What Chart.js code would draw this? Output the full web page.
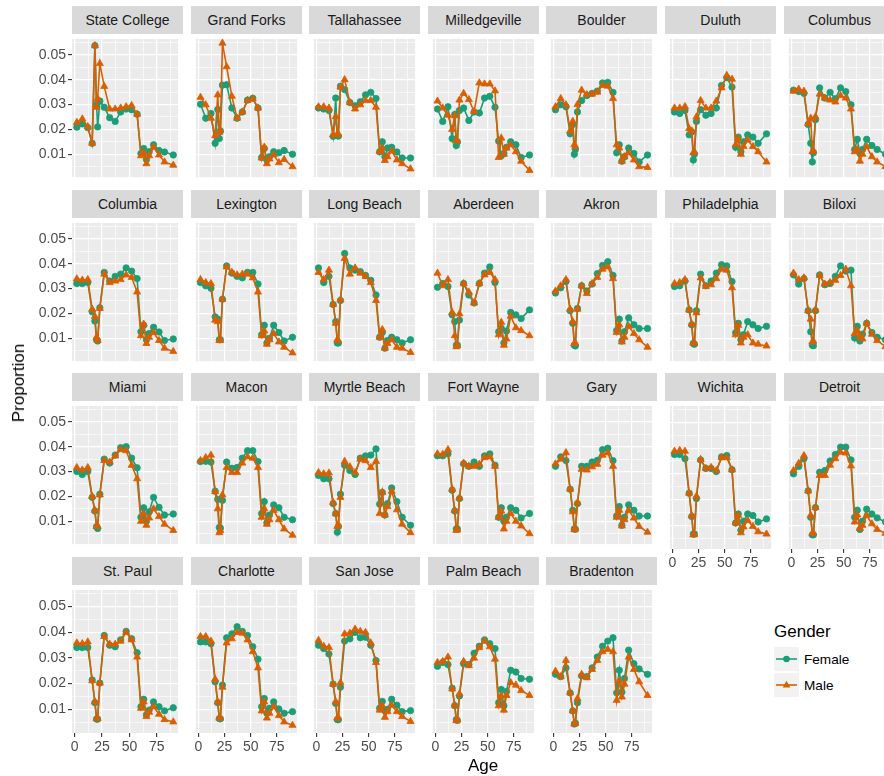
<!DOCTYPE html>
<html>
<head>
<meta charset="utf-8">
<script src="https://cdn.jsdelivr.net/npm/chart.js@4.4.0/dist/chart.umd.min.js"></script>
<style>
  body { margin: 0; background: #fff; }
  #fig { position: relative; width: 884px; height: 776px; overflow: hidden;
         font-family: "Liberation Sans", Arial, sans-serif; }
  .strip { position: absolute; background: #D9D9D9; color: #1A1A1A; font-size: 14px;
           text-align: center; white-space: nowrap; overflow: hidden; }
  canvas { position: absolute; }
  .title { position: absolute; color: #000; font-size: 17px; white-space: nowrap; }
  .key { position: absolute; width: 25px; height: 24px; background: #F2F2F2; }
  .keylab { position: absolute; font-size: 13.6px; color: #000; }
</style>
</head>
<body>
<div id="fig"></div>
<script>
const cities = ['State College', 'Grand Forks', 'Tallahassee', 'Milledgeville', 'Boulder', 'Duluth', 'Columbus',
  'Columbia', 'Lexington', 'Long Beach', 'Aberdeen', 'Akron', 'Philadelphia', 'Biloxi',
  'Miami', 'Macon', 'Myrtle Beach', 'Fort Wayne', 'Gary', 'Wichita', 'Detroit',
  'St. Paul', 'Charlotte', 'San Jose', 'Palm Beach', 'Bradenton'];

// midpoints of the census age groups
const ageMidpoints = [2, 7, 12, 16, 18.5, 20, 21, 23, 27, 32, 37, 42, 47, 52, 57, 60.5, 63, 65.5, 68, 72, 77, 82, 90];

const femaleProps = [
  [0.0209,0.0222,0.0207,0.0144,0.0537,0.0300,0.0210,0.0314,0.0289,0.0247,0.0232,0.0270,0.0282,0.0279,0.0261,0.0103,0.0123,0.0079,0.0110,0.0138,0.0115,0.0109,0.0097],
  [0.0301,0.0245,0.0264,0.0144,0.0280,0.0163,0.0194,0.0378,0.0380,0.0286,0.0245,0.0270,0.0318,0.0325,0.0286,0.0087,0.0123,0.0077,0.0090,0.0110,0.0106,0.0115,0.0100],
  [0.0286,0.0282,0.0276,0.0172,0.0326,0.0175,0.0173,0.0374,0.0360,0.0308,0.0295,0.0311,0.0339,0.0349,0.0324,0.0110,0.0150,0.0090,0.0125,0.0128,0.0109,0.0085,0.0085],
  [0.0282,0.0232,0.0291,0.0163,0.0260,0.0135,0.0150,0.0276,0.0286,0.0236,0.0270,0.0266,0.0326,0.0333,0.0289,0.0153,0.0094,0.0103,0.0128,0.0150,0.0138,0.0087,0.0097],
  [0.0279,0.0299,0.0291,0.0182,0.0220,0.0100,0.0119,0.0270,0.0316,0.0336,0.0345,0.0354,0.0387,0.0389,0.0349,0.0106,0.0138,0.0072,0.0090,0.0125,0.0103,0.0069,0.0097],
  [0.0270,0.0264,0.0276,0.0178,0.0190,0.0077,0.0100,0.0232,0.0279,0.0257,0.0264,0.0286,0.0377,0.0408,0.0370,0.0128,0.0169,0.0110,0.0150,0.0178,0.0169,0.0144,0.0182],
  [0.0358,0.0352,0.0345,0.0220,0.0144,0.0069,0.0106,0.0239,0.0367,0.0326,0.0349,0.0323,0.0367,0.0352,0.0299,0.0119,0.0160,0.0103,0.0119,0.0160,0.0135,0.0119,0.0100],
  [0.0320,0.0320,0.0324,0.0207,0.0169,0.0094,0.0089,0.0223,0.0365,0.0330,0.0349,0.0358,0.0383,0.0370,0.0340,0.0126,0.0152,0.0094,0.0119,0.0144,0.0125,0.0091,0.0097],
  [0.0324,0.0311,0.0301,0.0186,0.0177,0.0094,0.0094,0.0257,0.0391,0.0362,0.0349,0.0343,0.0365,0.0365,0.0318,0.0114,0.0152,0.0081,0.0100,0.0152,0.0123,0.0089,0.0104],
  [0.0383,0.0324,0.0349,0.0236,0.0167,0.0081,0.0081,0.0252,0.0441,0.0383,0.0374,0.0368,0.0353,0.0333,0.0274,0.0104,0.0123,0.0060,0.0091,0.0104,0.0094,0.0081,0.0094],
  [0.0305,0.0320,0.0308,0.0194,0.0167,0.0072,0.0072,0.0173,0.0320,0.0274,0.0242,0.0320,0.0362,0.0387,0.0324,0.0126,0.0140,0.0081,0.0129,0.0204,0.0194,0.0179,0.0214],
  [0.0282,0.0303,0.0328,0.0211,0.0160,0.0072,0.0069,0.0220,0.0311,0.0290,0.0318,0.0360,0.0393,0.0408,0.0353,0.0131,0.0177,0.0089,0.0126,0.0182,0.0154,0.0139,0.0139],
  [0.0308,0.0311,0.0330,0.0214,0.0154,0.0079,0.0076,0.0211,0.0358,0.0311,0.0330,0.0362,0.0396,0.0391,0.0328,0.0122,0.0160,0.0094,0.0114,0.0167,0.0154,0.0139,0.0148],
  [0.0355,0.0318,0.0340,0.0211,0.0126,0.0072,0.0070,0.0211,0.0355,0.0315,0.0320,0.0349,0.0391,0.0370,0.0374,0.0101,0.0148,0.0089,0.0116,0.0160,0.0123,0.0104,0.0094],
  [0.0300,0.0288,0.0300,0.0196,0.0141,0.0078,0.0071,0.0209,0.0350,0.0334,0.0366,0.0396,0.0400,0.0354,0.0315,0.0116,0.0154,0.0100,0.0138,0.0196,0.0156,0.0125,0.0129],
  [0.0340,0.0341,0.0338,0.0221,0.0188,0.0075,0.0072,0.0184,0.0338,0.0313,0.0316,0.0354,0.0384,0.0384,0.0340,0.0131,0.0179,0.0094,0.0125,0.0166,0.0154,0.0116,0.0106],
  [0.0284,0.0271,0.0271,0.0171,0.0131,0.0056,0.0079,0.0209,0.0325,0.0304,0.0288,0.0354,0.0363,0.0366,0.0391,0.0169,0.0216,0.0125,0.0171,0.0234,0.0179,0.0116,0.0084],
  [0.0363,0.0363,0.0371,0.0225,0.0141,0.0069,0.0069,0.0191,0.0331,0.0321,0.0338,0.0321,0.0363,0.0371,0.0325,0.0116,0.0154,0.0100,0.0116,0.0154,0.0144,0.0113,0.0131],
  [0.0321,0.0359,0.0344,0.0229,0.0144,0.0069,0.0068,0.0171,0.0321,0.0321,0.0338,0.0345,0.0388,0.0394,0.0344,0.0121,0.0159,0.0084,0.0116,0.0166,0.0144,0.0121,0.0121],
  [0.0375,0.0375,0.0359,0.0225,0.0134,0.0066,0.0066,0.0204,0.0354,0.0321,0.0321,0.0309,0.0366,0.0371,0.0316,0.0109,0.0144,0.0081,0.0116,0.0144,0.0138,0.0113,0.0125],
  [0.0300,0.0329,0.0359,0.0234,0.0131,0.0063,0.0063,0.0169,0.0306,0.0313,0.0350,0.0375,0.0404,0.0404,0.0354,0.0131,0.0159,0.0084,0.0116,0.0163,0.0144,0.0129,0.0113],
  [0.0340,0.0340,0.0340,0.0214,0.0126,0.0062,0.0062,0.0202,0.0387,0.0349,0.0343,0.0370,0.0403,0.0374,0.0320,0.0110,0.0139,0.0079,0.0097,0.0129,0.0110,0.0094,0.0106],
  [0.0362,0.0362,0.0355,0.0207,0.0126,0.0064,0.0063,0.0194,0.0378,0.0393,0.0421,0.0403,0.0387,0.0343,0.0295,0.0110,0.0142,0.0085,0.0104,0.0129,0.0101,0.0085,0.0091],
  [0.0349,0.0336,0.0315,0.0198,0.0123,0.0060,0.0060,0.0186,0.0365,0.0374,0.0399,0.0378,0.0380,0.0349,0.0290,0.0104,0.0131,0.0094,0.0100,0.0139,0.0116,0.0091,0.0095],
  [0.0267,0.0282,0.0274,0.0182,0.0114,0.0060,0.0057,0.0152,0.0277,0.0274,0.0318,0.0345,0.0370,0.0355,0.0336,0.0126,0.0177,0.0114,0.0169,0.0252,0.0245,0.0220,0.0217],
  [0.0236,0.0227,0.0261,0.0164,0.0094,0.0043,0.0046,0.0126,0.0230,0.0227,0.0261,0.0303,0.0345,0.0365,0.0378,0.0164,0.0252,0.0167,0.0220,0.0330,0.0277,0.0257,0.0236]
];

const maleProps = [
  [0.0228,0.0242,0.0211,0.0144,0.0537,0.0289,0.0324,0.0465,0.0373,0.0282,0.0282,0.0286,0.0291,0.0296,0.0261,0.0094,0.0106,0.0062,0.0094,0.0128,0.0097,0.0069,0.0056],
  [0.0329,0.0299,0.0245,0.0175,0.0339,0.0188,0.0195,0.0547,0.0452,0.0333,0.0245,0.0270,0.0316,0.0323,0.0286,0.0085,0.0129,0.0062,0.0081,0.0097,0.0066,0.0079,0.0050],
  [0.0291,0.0291,0.0286,0.0178,0.0251,0.0178,0.0180,0.0370,0.0400,0.0308,0.0282,0.0299,0.0316,0.0316,0.0289,0.0110,0.0125,0.0075,0.0090,0.0113,0.0077,0.0062,0.0041],
  [0.0314,0.0286,0.0257,0.0200,0.0255,0.0155,0.0153,0.0318,0.0345,0.0320,0.0272,0.0387,0.0383,0.0383,0.0355,0.0087,0.0165,0.0100,0.0125,0.0138,0.0110,0.0072,0.0035],
  [0.0291,0.0324,0.0299,0.0194,0.0232,0.0138,0.0130,0.0300,0.0358,0.0340,0.0342,0.0350,0.0377,0.0374,0.0324,0.0138,0.0125,0.0072,0.0090,0.0106,0.0077,0.0050,0.0047],
  [0.0286,0.0286,0.0292,0.0203,0.0194,0.0106,0.0110,0.0250,0.0316,0.0286,0.0286,0.0314,0.0367,0.0417,0.0402,0.0138,0.0163,0.0100,0.0131,0.0157,0.0131,0.0110,0.0069],
  [0.0354,0.0362,0.0354,0.0223,0.0245,0.0110,0.0115,0.0251,0.0342,0.0326,0.0318,0.0310,0.0336,0.0326,0.0282,0.0110,0.0119,0.0072,0.0100,0.0131,0.0090,0.0069,0.0050],
  [0.0339,0.0334,0.0336,0.0217,0.0188,0.0104,0.0091,0.0220,0.0358,0.0324,0.0330,0.0336,0.0355,0.0345,0.0286,0.0110,0.0157,0.0079,0.0104,0.0123,0.0091,0.0060,0.0047],
  [0.0336,0.0324,0.0320,0.0173,0.0167,0.0091,0.0091,0.0257,0.0387,0.0365,0.0355,0.0358,0.0358,0.0343,0.0286,0.0110,0.0129,0.0076,0.0094,0.0119,0.0085,0.0064,0.0041],
  [0.0365,0.0336,0.0374,0.0236,0.0160,0.0094,0.0090,0.0255,0.0421,0.0358,0.0383,0.0362,0.0349,0.0324,0.0252,0.0104,0.0135,0.0060,0.0079,0.0094,0.0064,0.0060,0.0043],
  [0.0362,0.0311,0.0336,0.0204,0.0110,0.0066,0.0070,0.0198,0.0320,0.0286,0.0242,0.0320,0.0355,0.0365,0.0336,0.0114,0.0164,0.0072,0.0097,0.0189,0.0142,0.0131,0.0110],
  [0.0290,0.0311,0.0336,0.0217,0.0167,0.0079,0.0080,0.0217,0.0311,0.0280,0.0320,0.0345,0.0378,0.0387,0.0340,0.0123,0.0154,0.0085,0.0104,0.0148,0.0119,0.0094,0.0064],
  [0.0320,0.0324,0.0336,0.0214,0.0157,0.0081,0.0080,0.0202,0.0343,0.0308,0.0315,0.0340,0.0378,0.0374,0.0303,0.0114,0.0152,0.0081,0.0104,0.0114,0.0081,0.0076,0.0069],
  [0.0362,0.0336,0.0343,0.0211,0.0177,0.0085,0.0088,0.0214,0.0353,0.0318,0.0324,0.0333,0.0353,0.0378,0.0311,0.0119,0.0131,0.0104,0.0097,0.0160,0.0116,0.0091,0.0066],
  [0.0316,0.0306,0.0316,0.0200,0.0144,0.0079,0.0080,0.0206,0.0344,0.0338,0.0363,0.0388,0.0384,0.0325,0.0271,0.0100,0.0129,0.0084,0.0113,0.0150,0.0119,0.0088,0.0063],
  [0.0344,0.0356,0.0366,0.0219,0.0150,0.0054,0.0063,0.0206,0.0316,0.0296,0.0296,0.0334,0.0359,0.0354,0.0316,0.0116,0.0150,0.0088,0.0106,0.0144,0.0106,0.0069,0.0044],
  [0.0296,0.0291,0.0294,0.0175,0.0130,0.0079,0.0085,0.0196,0.0341,0.0319,0.0296,0.0350,0.0344,0.0316,0.0341,0.0131,0.0216,0.0125,0.0159,0.0221,0.0146,0.0088,0.0054],
  [0.0371,0.0369,0.0388,0.0229,0.0144,0.0063,0.0066,0.0194,0.0334,0.0321,0.0321,0.0329,0.0356,0.0359,0.0321,0.0116,0.0141,0.0069,0.0100,0.0131,0.0100,0.0081,0.0050],
  [0.0331,0.0350,0.0376,0.0229,0.0138,0.0066,0.0070,0.0175,0.0309,0.0306,0.0319,0.0329,0.0366,0.0375,0.0321,0.0116,0.0144,0.0081,0.0106,0.0144,0.0113,0.0079,0.0056],
  [0.0388,0.0391,0.0388,0.0225,0.0138,0.0063,0.0065,0.0213,0.0356,0.0321,0.0325,0.0313,0.0363,0.0363,0.0316,0.0109,0.0138,0.0071,0.0094,0.0119,0.0096,0.0075,0.0066],
  [0.0313,0.0341,0.0371,0.0234,0.0138,0.0069,0.0070,0.0169,0.0294,0.0294,0.0334,0.0359,0.0384,0.0381,0.0331,0.0113,0.0140,0.0088,0.0100,0.0138,0.0106,0.0084,0.0069],
  [0.0358,0.0355,0.0362,0.0211,0.0129,0.0064,0.0064,0.0202,0.0383,0.0353,0.0353,0.0365,0.0399,0.0370,0.0303,0.0104,0.0129,0.0072,0.0089,0.0110,0.0081,0.0060,0.0051],
  [0.0383,0.0383,0.0365,0.0217,0.0129,0.0066,0.0066,0.0186,0.0358,0.0374,0.0399,0.0396,0.0370,0.0324,0.0261,0.0094,0.0129,0.0066,0.0085,0.0110,0.0076,0.0051,0.0038],
  [0.0368,0.0345,0.0340,0.0198,0.0129,0.0066,0.0066,0.0204,0.0393,0.0396,0.0412,0.0403,0.0399,0.0358,0.0282,0.0097,0.0114,0.0069,0.0091,0.0116,0.0091,0.0072,0.0053],
  [0.0282,0.0286,0.0303,0.0179,0.0116,0.0056,0.0060,0.0160,0.0286,0.0270,0.0299,0.0340,0.0365,0.0343,0.0295,0.0114,0.0152,0.0097,0.0154,0.0204,0.0194,0.0173,0.0154],
  [0.0248,0.0227,0.0290,0.0164,0.0094,0.0043,0.0046,0.0142,0.0236,0.0223,0.0255,0.0290,0.0324,0.0333,0.0324,0.0135,0.0211,0.0148,0.0198,0.0303,0.0255,0.0207,0.0154]
];

const xBreaks = [0, 12.5, 25, 37.5, 50, 62.5, 75, 87.5];
const xLabels = [0, 25, 50, 75];
const yBreaks = [0.005, 0.01, 0.015, 0.02, 0.025, 0.03, 0.035, 0.04, 0.045, 0.05, 0.055];
const yLabels = [0.01, 0.02, 0.03, 0.04, 0.05];

const FEMALE = '#1B9E77';
const MALE = '#D95F02';
const FONT = '"Liberation Sans", Arial, sans-serif';

// facet grid geometry
const nCol = 7;
const colLeft = [72, 191, 309, 428, 546, 665, 784];
const rowTop = [6, 190, 373, 557];
const stripH = 28, plotW = 111, plotH = 148;
const yAxisW = 50, xAxisH = 30;

const fig = document.getElementById('fig');

const isIn = (list, v) => list.some(l => Math.abs(l - v) < 1e-9);

const panelBg = {
  id: 'panelBg',
  beforeDraw(chart) {
    const a = chart.chartArea, ctx = chart.ctx;
    ctx.save();
    ctx.fillStyle = '#EBEBEB';
    ctx.fillRect(a.left, a.top, a.right - a.left, a.bottom - a.top);
    ctx.restore();
  }
};

cities.forEach((city, i) => {
  const col = i % nCol, row = Math.floor(i / nCol);
  const hasY = col === 0;
  const hasX = i + nCol >= cities.length;
  const left = colLeft[col], top = rowTop[row];

  const strip = document.createElement('div');
  strip.className = 'strip';
  strip.style.left = left + 'px';
  strip.style.top = top + 'px';
  strip.style.width = plotW + 'px';
  strip.style.height = stripH + 'px';
  strip.style.lineHeight = stripH + 'px';
  strip.textContent = city;
  fig.appendChild(strip);

  const cv = document.createElement('canvas');
  const w = plotW + (hasY ? yAxisW : 0);
  const h = plotH + (hasX ? xAxisH : 0);
  cv.width = w; cv.height = h;
  cv.style.left = (left - (hasY ? yAxisW : 0)) + 'px';
  cv.style.top = (top + stripH) + 'px';
  cv.style.width = w + 'px'; cv.style.height = h + 'px';
  fig.appendChild(cv);

  const series = (vals, label, color, style, radius, order) => ({
    label: label,
    data: ageMidpoints.map((a, k) => ({ x: a, y: vals[k] })),
    borderColor: color,
    backgroundColor: color,
    borderWidth: 1.6,
    pointStyle: style,
    pointRadius: radius,
    pointBorderWidth: 0.8,
    pointBorderColor: color,
    pointBackgroundColor: color,
    order: order
  });

  new Chart(cv, {
    type: 'line',
    data: {
      datasets: [
        series(femaleProps[i], 'Female', FEMALE, 'circle', 3.2, 1),
        series(maleProps[i], 'Male', MALE, 'triangle', 4.1, 0)
      ]
    },
    plugins: [panelBg],
    options: {
      responsive: false,
      animation: false,
      events: [],
      layout: { padding: 0 },
      plugins: { legend: { display: false }, tooltip: { enabled: false } },
      scales: {
        x: {
          type: 'linear',
          min: -2.4, max: 94.4,
          afterBuildTicks: s => { s.ticks = xBreaks.map(v => ({ value: v })); },
          afterFit: s => { s.height = hasX ? xAxisH : 0; s.paddingLeft = 0; s.paddingRight = 0; },
          border: { display: false },
          grid: {
            color: '#FFFFFF',
            lineWidth: c => isIn(xLabels, c.tick.value) ? 1.2 : 0.6,
            drawTicks: hasX,
            tickLength: 4,
            tickWidth: 1.1,
            tickColor: c => isIn(xLabels, c.tick.value) ? '#333333' : 'rgba(0,0,0,0)'
          },
          ticks: {
            display: hasX,
            autoSkip: false,
            maxRotation: 0,
            padding: 2,
            color: '#4D4D4D',
            font: { family: FONT, size: 14 },
            callback: v => isIn(xLabels, v) ? String(v) : ''
          }
        },
        y: {
          type: 'linear',
          min: 0.0008, max: 0.0564,
          afterBuildTicks: s => { s.ticks = yBreaks.map(v => ({ value: v })); },
          afterFit: s => { s.width = hasY ? yAxisW : 0; s.paddingTop = 0; s.paddingBottom = 0; },
          border: { display: false },
          grid: {
            color: '#FFFFFF',
            lineWidth: c => isIn(yLabels, c.tick.value) ? 1.2 : 0.6,
            drawTicks: hasY,
            tickLength: 4,
            tickWidth: 1.1,
            tickColor: c => isIn(yLabels, c.tick.value) ? '#333333' : 'rgba(0,0,0,0)'
          },
          ticks: {
            display: hasY,
            autoSkip: false,
            padding: 2,
            color: '#4D4D4D',
            font: { family: FONT, size: 14 },
            callback: v => isIn(yLabels, v) ? v.toFixed(2) : ''
          }
        }
      }
    }
  });
});

// axis titles
const ageTitle = document.createElement('div');
ageTitle.className = 'title';
ageTitle.textContent = 'Age';
ageTitle.style.left = '483px';
ageTitle.style.top = '766px';
ageTitle.style.transform = 'translate(-50%, -50%)';
fig.appendChild(ageTitle);

const propTitle = document.createElement('div');
propTitle.className = 'title';
propTitle.textContent = 'Proportion';
propTitle.style.left = '19px';
propTitle.style.top = '383px';
propTitle.style.transform = 'translate(-50%, -50%) rotate(-90deg)';
fig.appendChild(propTitle);

// legend
const legTitle = document.createElement('div');
legTitle.className = 'title';
legTitle.textContent = 'Gender';
legTitle.style.left = '774px';
legTitle.style.top = '632px';
legTitle.style.transform = 'translateY(-50%)';
fig.appendChild(legTitle);

[['Female', FEMALE, 'circle', 646.5], ['Male', MALE, 'triangle', 673]].forEach(([lab, color, shape, y]) => {
  const key = document.createElement('div');
  key.className = 'key';
  key.style.left = '774px';
  key.style.top = y + 'px';
  const mark = shape === 'circle'
    ? `<circle cx="12.5" cy="12" r="3.3" fill="${color}"/>`
    : `<polygon points="12.5,7.8 16.3,14.4 8.7,14.4" fill="${color}"/>`;
  key.innerHTML = `<svg width="25" height="24"><line x1="2" y1="12" x2="23" y2="12" stroke="${color}" stroke-width="1.6"/>${mark}</svg>`;
  fig.appendChild(key);

  const t = document.createElement('div');
  t.className = 'keylab';
  t.textContent = lab;
  t.style.left = '804px';
  t.style.top = (y + 12) + 'px';
  t.style.transform = 'translateY(-50%)';
  fig.appendChild(t);
});
</script>
</body>
</html>
